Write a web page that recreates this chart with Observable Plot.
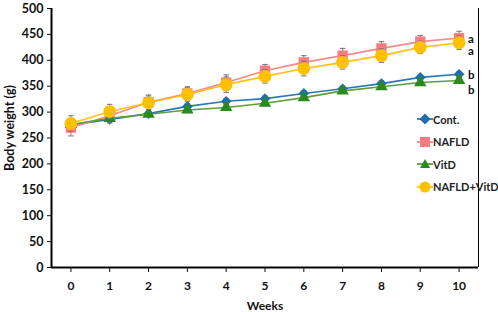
<!DOCTYPE html>
<html>
<head>
<meta charset="utf-8">
<script src="https://cdn.jsdelivr.net/npm/d3@7"></script>
<script src="https://cdn.jsdelivr.net/npm/@observablehq/plot@0.6"></script>
<style>
  html, body { margin: 0; padding: 0; background: #fff; }
  #wrap { position: relative; width: 498px; height: 312px; font-family: Lato, "Open Sans", sans-serif; }
  #legend { position: absolute; left: 417px; top: 108px; font-weight: bold; font-size: 11px; color: #222; }
  .item { display: flex; align-items: center; height: 22.5px; }
  #ylabel { position: absolute; left: 9px; top: 128px; transform: translate(-50%, -50%) rotate(-90deg); white-space: nowrap; font-weight: bold; font-size: 12.5px; color: #111; }
</style>
</head>
<body>
<div id="wrap"></div>
<script>
const weeks = [0, 1, 2, 3, 4, 5, 6, 7, 8, 9, 10];
const seriesNames = ["Cont.", "NAFLD", "VitD", "NAFLD+VitD"];
const contVals = [275, 286, 297, 311, 321, 326, 336, 345, 355, 367, 373];
const nafldVals = [270, 293, 319, 336, 357, 380, 396, 409, 423, 436, 443];
const vitdVals = [276, 288, 296, 304, 309, 317, 328, 341, 349, 357, 361];
const comboVals = [278, 301, 318, 334, 353, 369, 384, 396, 409, 425, 434];
const contErr = [5, 5, 5, 5, 5, 5, 5, 5, 5, 5, 5];
const nafldErr = [16, 14, 14, 13, 15, 12, 13, 14, 13, 12, 13];
const vitdErr = [5, 5, 5, 5, 5, 5, 5, 5, 5, 5, 5];
const comboErr = [15, 14, 13, 13, 15, 13, 14, 13, 13, 12, 13];
const sigLetters = ["b", "a", "b", "a"];
const yTicks = [0, 50, 100, 150, 200, 250, 300, 350, 400, 450, 500];
const yLabel = "Body weight (g)";
const xLabel = "Weeks";

const colors = { "Cont.": "#1f6fb0", "NAFLD": "#f87c80", "VitD": "#2a8a1e", "NAFLD+VitD": "#ffc000" };
const lineColors = { "Cont.": "#2a78b8", "NAFLD": "#f4898c", "VitD": "#5e9e3e", "NAFLD+VitD": "#ffc21a" };
const symbols = { "Cont.": "diamond2", "NAFLD": "square", "VitD": "triangle", "NAFLD+VitD": "circle" };
const radii = { "Cont.": 4.8, "NAFLD": 5.8, "VitD": 4.6, "NAFLD+VitD": 6.4 };
const letterDy = { "Cont.": 1, "NAFLD": 1, "VitD": 10, "NAFLD+VitD": 9 };

const valsBy = { "Cont.": contVals, "NAFLD": nafldVals, "VitD": vitdVals, "NAFLD+VitD": comboVals };
const errBy = { "Cont.": contErr, "NAFLD": nafldErr, "VitD": vitdErr, "NAFLD+VitD": comboErr };

const rows = seriesNames.flatMap(s => weeks.map((w, i) => ({ series: s, week: w, value: valsBy[s][i], err: errBy[s][i] })));

const marks = [
  Plot.ruleX([-0.5], { y1: 0, y2: 500, stroke: "#000", strokeWidth: 2 }),
  Plot.ruleY([0], { x1: -0.5, x2: 10.5, stroke: "#000", strokeWidth: 2 }),
  Plot.axisY({ ticks: yTicks, tickSize: 4, tickPadding: 4, label: null, fontSize: 12.5, fontWeight: "bold" }),
  Plot.axisX({ ticks: weeks, tickSize: 5, tickPadding: 9, tickFormat: d => String(d), label: xLabel, labelAnchor: "center", labelArrow: "none", labelOffset: 42, fontSize: 12, fontWeight: "bold" }),
  Plot.tickX([10.5], { y1: 0, y2: -10, stroke: "#000" })
];

for (const s of seriesNames) {
  const d = rows.filter(r => r.series === s);
  marks.push(
    Plot.ruleX(d, { x: "week", y1: r => r.value - r.err, y2: r => r.value + r.err, stroke: "#777", strokeWidth: 1 }),
    Plot.link(d, { x1: r => r.week - 0.07, x2: r => r.week + 0.07, y1: r => r.value + r.err, y2: r => r.value + r.err, stroke: "#777", strokeWidth: 1 }),
    Plot.link(d, { x1: r => r.week - 0.07, x2: r => r.week + 0.07, y1: r => r.value - r.err, y2: r => r.value - r.err, stroke: "#777", strokeWidth: 1 }),
    Plot.line(d, { x: "week", y: "value", stroke: lineColors[s], strokeWidth: 1.6 }),
    Plot.dot(d, { x: "week", y: "value", symbol: () => symbols[s], r: radii[s], fill: colors[s], stroke: "none" })
  );
}

const lastRows = seriesNames.map((s, i) => ({ series: s, letter: sigLetters[i], week: 10, value: valsBy[s][10] }));
for (const r of lastRows) {
  marks.push(Plot.text([r], { x: "week", y: "value", text: "letter", dx: 9, dy: letterDy[r.series], fontSize: 11.5, fontWeight: "bold", fill: "#111", textAnchor: "start" }));
}

const chart = Plot.plot({
  width: 498,
  height: 312,
  marginLeft: 51,
  marginRight: 20,
  marginTop: 8,
  marginBottom: 45,
  x: { type: "linear", domain: [-0.5, 10.5] },
  y: { domain: [0, 500] },
  symbol: { type: "identity" },
  style: { fontFamily: "Lato, 'Open Sans', sans-serif", fontSize: "12px", fontWeight: "bold", color: "#111", background: "#fff", overflow: "visible" },
  marks
});

const wrap = document.getElementById("wrap");
wrap.appendChild(chart);

const yl = document.createElement("div");
yl.id = "ylabel";
yl.textContent = yLabel;
wrap.appendChild(yl);

const legend = document.createElement("div");
legend.id = "legend";
const sym = {
  "Cont.": `<path d="M8 2.5 L13.5 8 L8 13.5 L2.5 8 Z" fill="${colors["Cont."]}"/>`,
  "NAFLD": `<rect x="3" y="3" width="10" height="10" fill="${colors["NAFLD"]}"/>`,
  "VitD": `<path d="M8 3 L13 12 L3 12 Z" fill="${colors["VitD"]}"/>`,
  "NAFLD+VitD": `<circle cx="8" cy="8" r="5.5" fill="${colors["NAFLD+VitD"]}"/>`
};
for (const s of seriesNames) {
  const it = document.createElement("div");
  it.className = "item";
  it.innerHTML = `<svg width="16" height="16"><line x1="0" x2="16" y1="8" y2="8" stroke="${lineColors[s]}" stroke-width="1.8"/>${sym[s]}</svg><span>${s}</span>`;
  legend.appendChild(it);
}
wrap.appendChild(legend);
</script>
</body>
</html>
